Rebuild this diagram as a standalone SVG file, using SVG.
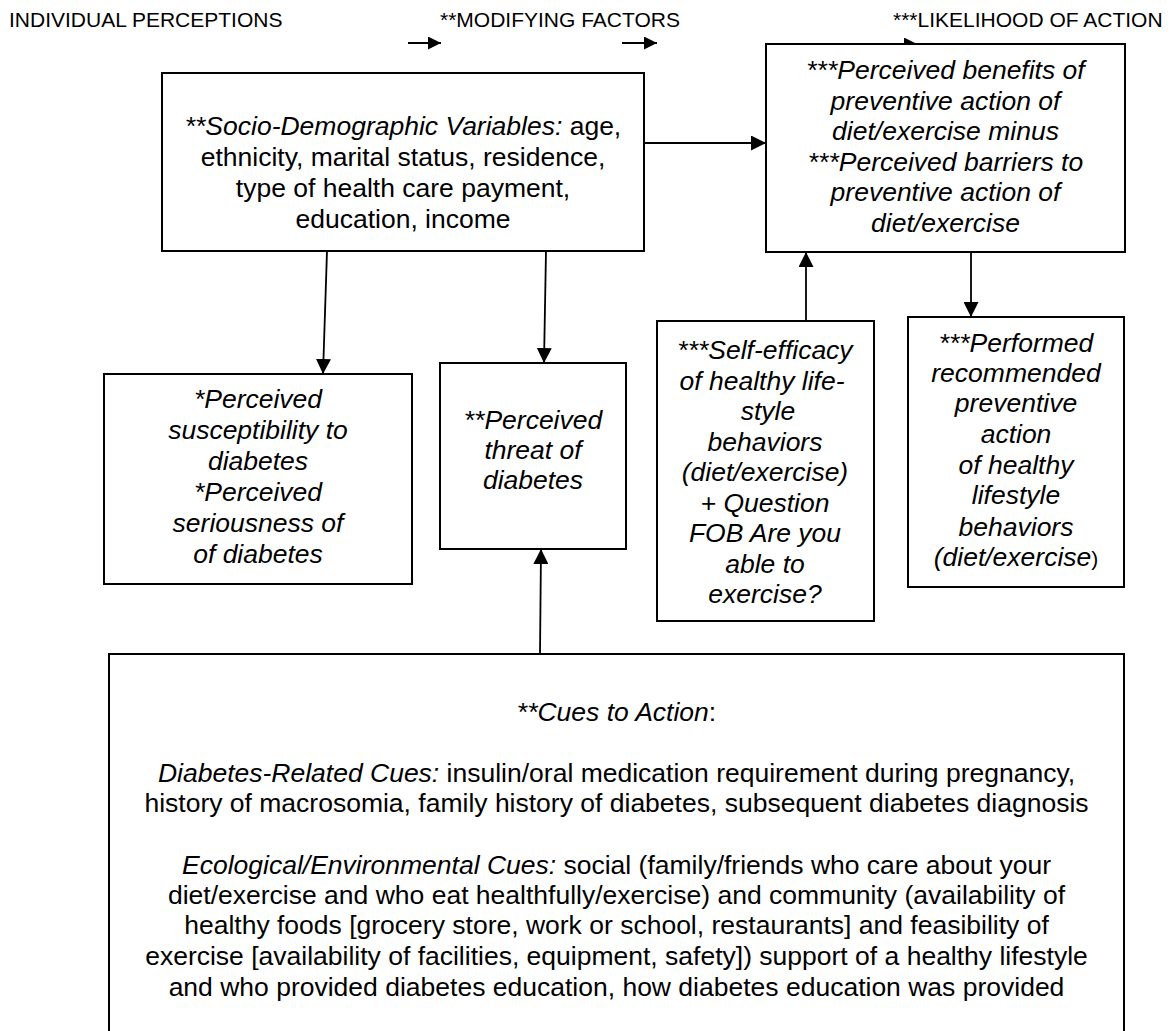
<svg xmlns="http://www.w3.org/2000/svg" width="1175" height="1031" viewBox="0 0 1175 1031">
<defs>
<style>
text{font-family:"Liberation Sans",Arial,sans-serif;fill:#000;}
.hdr{font-size:21px;}
.t{font-size:26.5px;text-anchor:middle;}
.i{font-style:italic;}
.n{font-style:normal;}
.box{fill:#fff;stroke:#000;stroke-width:2;}
.con{fill:none;stroke:#000;stroke-width:1.8;}
</style>
<marker id="ah" markerUnits="userSpaceOnUse" markerWidth="15" markerHeight="15" refX="15" refY="7.5" orient="auto">
<path d="M0,0 L15,7.5 L0,15 z" fill="#000"/>
</marker>
<marker id="ahs" markerUnits="userSpaceOnUse" markerWidth="13" markerHeight="13" refX="13" refY="6.5" orient="auto">
<path d="M0,0 L13,6.5 L0,13 z" fill="#000"/>
</marker>
</defs>
<rect width="1175" height="1031" fill="#fff"/>

<g id="headers">
<text class="hdr" x="9" y="27">INDIVIDUAL PERCEPTIONS</text>
<text class="hdr" x="440" y="27">**MODIFYING FACTORS</text>
<text class="hdr" x="893" y="27">***LIKELIHOOD OF ACTION</text>
</g>

<g id="connectors">
<line class="con" x1="408" y1="43" x2="441" y2="43" marker-end="url(#ahs)"/>
<line class="con" x1="622" y1="43" x2="657" y2="43" marker-end="url(#ahs)"/>
<line class="con" x1="880" y1="44" x2="917" y2="44" marker-end="url(#ahs)"/>
<line class="con" x1="644" y1="143" x2="766" y2="143" marker-end="url(#ah)"/>
<line class="con" x1="327" y1="251" x2="323" y2="374" marker-end="url(#ah)"/>
<line class="con" x1="546" y1="251" x2="544" y2="363" marker-end="url(#ah)"/>
<line class="con" x1="540" y1="654" x2="541" y2="549" marker-end="url(#ah)"/>
<line class="con" x1="806" y1="321" x2="806" y2="252" marker-end="url(#ah)"/>
<line class="con" x1="971" y1="252" x2="971" y2="317" marker-end="url(#ah)"/>
</g>

<g id="node-benefits">
<rect class="box" x="766" y="44" width="359" height="208"/>
<text class="t i" x="945.5" y="79">***Perceived benefits of</text>
<text class="t i" x="945.5" y="109.5">preventive action of</text>
<text class="t i" x="945.5" y="140">diet/exercise minus</text>
<text class="t i" x="945.5" y="170.5">***Perceived barriers to</text>
<text class="t i" x="945.5" y="201">preventive action of</text>
<text class="t i" x="945.5" y="231.5">diet/exercise</text>
</g>

<g id="node-socio">
<rect class="box" x="162" y="73" width="482" height="178"/>
<text class="t" x="403" y="135"><tspan class="i">**Socio-Demographic Variables:</tspan> age,</text>
<text class="t" x="403" y="166">ethnicity, marital status, residence,</text>
<text class="t" x="403" y="197">type of health care payment,</text>
<text class="t" x="403" y="228">education, income</text>
</g>

<g id="node-susceptibility">
<rect class="box" x="104" y="374" width="308" height="210"/>
<text class="t i" x="258" y="408">*Perceived</text>
<text class="t i" x="258" y="439">susceptibility to</text>
<text class="t i" x="258" y="470">diabetes</text>
<text class="t i" x="258" y="501">*Perceived</text>
<text class="t i" x="258" y="532">seriousness of</text>
<text class="t i" x="258" y="563">of diabetes</text>
</g>

<g id="node-threat">
<rect class="box" x="440" y="363" width="186" height="186"/>
<text class="t i" x="533" y="429">**Perceived</text>
<text class="t i" x="533" y="459">threat of</text>
<text class="t i" x="533" y="489">diabetes</text>
</g>

<g id="node-selfefficacy">
<rect class="box" x="657" y="321" width="217" height="300"/>
<text class="t i" x="765" y="359">***Self-efficacy</text>
<text class="t i" x="762" y="389.5">of healthy life-</text>
<text class="t i" x="768" y="420">style</text>
<text class="t i" x="765" y="450.5">behaviors</text>
<text class="t i" x="765" y="481">(diet/exercise)</text>
<text class="t i" x="765" y="511.5">+ Question</text>
<text class="t i" x="765" y="542">FOB Are you</text>
<text class="t i" x="765" y="572.5">able to</text>
<text class="t i" x="765" y="603">exercise?</text>
</g>

<g id="node-performed">
<rect class="box" x="908" y="317" width="216" height="270"/>
<text class="t i" x="1016" y="352">***Performed</text>
<text class="t i" x="1016" y="382">recommended</text>
<text class="t i" x="1016" y="412">preventive</text>
<text class="t i" x="1016" y="443">action</text>
<text class="t i" x="1016" y="474">of healthy</text>
<text class="t i" x="1016" y="504">lifestyle</text>
<text class="t i" x="1016" y="536">behaviors</text>
<text class="t i" x="1016" y="566">(diet/exercise<tspan class="n" font-size="21">)</tspan></text>
</g>

<g id="node-cues">
<rect class="box" x="109" y="654" width="1015" height="400"/>
<text class="t" x="616.5" y="721"><tspan class="i">**Cues to Action</tspan>:</text>
<text class="t" x="616.5" y="782"><tspan class="i">Diabetes-Related Cues:</tspan> insulin/oral medication requirement during pregnancy,</text>
<text class="t" x="616.5" y="812">history of macrosomia, family history of diabetes, subsequent diabetes diagnosis</text>
<text class="t" x="616.5" y="874"><tspan class="i">Ecological/Environmental Cues:</tspan> social (family/friends who care about your</text>
<text class="t" x="616.5" y="904">diet/exercise and who eat healthfully/exercise) and community (availability of</text>
<text class="t" x="616.5" y="934">healthy foods [grocery store, work or school, restaurants] and feasibility of</text>
<text class="t" x="616.5" y="965">exercise [availability of facilities, equipment, safety]) support of a healthy lifestyle</text>
<text class="t" x="616.5" y="996">and who provided diabetes education, how diabetes education was provided</text>
</g>
</svg>
